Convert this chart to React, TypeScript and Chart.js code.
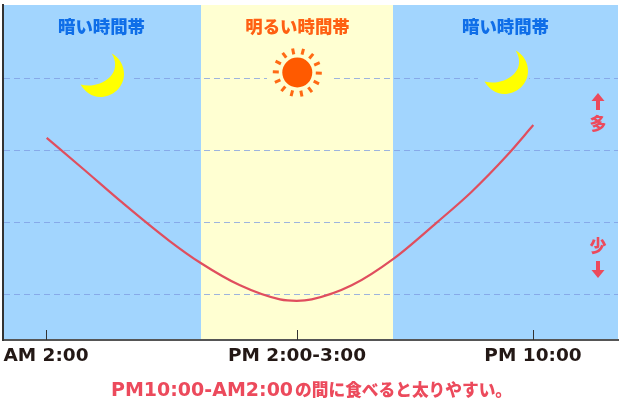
import React, { useEffect, useRef } from "react";
import { Chart, registerables } from "chart.js";

Chart.register(...registerables);

// x is a position along the (non-uniform) time axis, y is the relative amount
const tickPositions = [43, 294, 530];
const tickLabels = ["AM 2:00", "PM 2:00-3:00", "PM 10:00"];
const curveX = [43.7, 80, 120, 166, 197.7, 237, 277, 293.7, 308.7, 348.7, 390.7, 433.7, 468.7, 503.7, 530.3];
const curveY = [3.18, 2.75, 2.27, 1.75, 1.437, 1.126, 0.93, 0.91, 0.93, 1.126, 1.498, 2.0, 2.43, 2.93, 3.358];
const bandEdges = [0, 198, 390, 615];
const bandColors = ["#a2d5fe", "#ffffd2", "#a2d5fe"];
const bandTitles = ["暗い時間帯", "明るい時間帯", "暗い時間帯"];
const bandTitleColors = ["#0f6ee8", "#ff6012", "#0f6ee8"];
const captionLatin = "PM10:00-AM2:00";
const captionJp = "の間に食べると太りやすい。";
const moreLabel = "多";
const lessLabel = "少";

const RED = "#ec4a5c";
const LATIN = '"DejaVu Sans"';
const JP = '"Noto Sans CJK JP"';

const decor = {
  id: "decor",
  beforeDraw(chart: any) {
    const { ctx, chartArea: a, scales } = chart;
    const x = scales.x;
    ctx.save();
    ctx.fillStyle = "#ffffff";
    ctx.fillRect(0, 0, chart.width, chart.height);
    bandColors.forEach((c, i) => {
      ctx.fillStyle = c;
      const l = x.getPixelForValue(bandEdges[i]);
      const r = x.getPixelForValue(bandEdges[i + 1]);
      ctx.fillRect(l, a.top, r - l, a.bottom - a.top);
    });
    ctx.restore();
  },
  afterDatasetsDraw(chart: any) {
    const { ctx, chartArea: a, scales } = chart;
    const x = scales.x;
    ctx.save();
    // gaps in grid around the icons
    ctx.fillStyle = bandColors[0];
    ctx.fillRect(98, 77, 34, 4);
    ctx.fillRect(478, 77, 51, 4);
    ctx.fillStyle = bandColors[1];
    ctx.fillRect(267, 77, 66, 4);

    // tick marks
    ctx.strokeStyle = "#333";
    ctx.lineWidth = 1;
    tickPositions.forEach((t) => {
      const p = Math.floor(x.getPixelForValue(t)) + 0.5;
      ctx.beginPath();
      ctx.moveTo(p, a.bottom - 10);
      ctx.lineTo(p, a.bottom);
      ctx.stroke();
    });

    // band titles
    ctx.textAlign = "center";
    ctx.textBaseline = "middle";
    ctx.font = `900 17.4px ${JP}`;
    bandTitles.forEach((t, i) => {
      ctx.fillStyle = bandTitleColors[i];
      const c = i === 0 ? 101.5 : i === 1 ? 297.5 : 505.5;
      ctx.fillText(t, c, 26);
    });

    // moons
    const moon = (dx: number, dy: number) => {
      ctx.fillStyle = "#ffff00";
      ctx.beginPath();
      ctx.moveTo(111.7 + dx, 53.5 + dy);
      ctx.bezierCurveTo(120 + dx, 58 + dy, 124 + dx, 66 + dy, 124 + dx, 74 + dy);
      ctx.bezierCurveTo(124 + dx, 87 + dy, 113 + dx, 97 + dy, 100 + dx, 97 + dy);
      ctx.bezierCurveTo(92 + dx, 97 + dy, 85 + dx, 92 + dy, 80.5 + dx, 84.5 + dy);
      ctx.bezierCurveTo(90 + dx, 87 + dy, 102 + dx, 85 + dy, 110 + dx, 77 + dy);
      ctx.bezierCurveTo(116 + dx, 71 + dy, 117 + dx, 62 + dy, 111.7 + dx, 53.5 + dy);
      ctx.fill();
    };
    moon(0, 0);
    moon(404, -3);

    // sun
    const cx = 297.3;
    const cy = 72.5;
    ctx.fillStyle = "#ff5a00";
    ctx.beginPath();
    ctx.arc(cx, cy, 15, 0, Math.PI * 2);
    ctx.fill();
    ctx.strokeStyle = "#ff6a14";
    ctx.lineWidth = 3;
    for (let i = 0; i < 14; i++) {
      const th = ((-101 + (i * 360) / 14) * Math.PI) / 180;
      ctx.beginPath();
      ctx.moveTo(cx + Math.cos(th) * 18.5, cy + Math.sin(th) * 18.5);
      ctx.lineTo(cx + Math.cos(th) * 24.5, cy + Math.sin(th) * 24.5);
      ctx.stroke();
    }

    // arrows
    ctx.fillStyle = RED;
    const arrow = (tip: number, dir: number) => {
      ctx.beginPath();
      ctx.moveTo(598, tip);
      ctx.lineTo(604.5, tip + dir * 8);
      ctx.lineTo(600, tip + dir * 8);
      ctx.lineTo(600, tip + dir * 17);
      ctx.lineTo(596, tip + dir * 17);
      ctx.lineTo(596, tip + dir * 8);
      ctx.lineTo(591.5, tip + dir * 8);
      ctx.closePath();
      ctx.fill();
    };
    arrow(93, 1);
    arrow(278, -1);
    ctx.font = `900 17px ${JP}`;
    ctx.fillText(moreLabel, 598, 124);
    ctx.fillText(lessLabel, 598, 246);

    // caption
    ctx.textAlign = "left";
    ctx.font = `bold 19px ${LATIN}`;
    const w = ctx.measureText(captionLatin).width;
    ctx.fillText(captionLatin, 111, 391);
    ctx.font = `900 16.7px ${JP}`;
    ctx.fillText(captionJp, 111 + w + 2, 390);

    ctx.restore();
  },
};

export default function App() {
  const ref = useRef<HTMLCanvasElement>(null);
  useEffect(() => {
    const chart = new Chart(ref.current!, {
      type: "line",
      data: {
        datasets: [
          {
            data: curveX.map((x, i) => ({ x, y: curveY[i] })),
            borderColor: "#e04e5e",
            borderWidth: 2.2,
            pointRadius: 0,
            cubicInterpolationMode: "monotone",
          },
        ],
      },
      options: {
        responsive: false,
        animation: false,
        devicePixelRatio: 1,
        layout: { padding: { left: 3, top: 5, right: 4, bottom: 0 } },
        plugins: { legend: { display: false }, title: { display: false }, tooltip: { enabled: false } },
        scales: {
          x: {
            type: "linear",
            min: 0,
            max: 615,
            afterBuildTicks(s: any) {
              s.ticks = tickPositions.map((value) => ({ value }));
            },
            afterFit(s: any) {
              s.height = 63;
            },
            grid: { display: false },
            border: { color: "#555", width: 2 },
            ticks: {
              autoSkip: false,
              maxRotation: 0,
              padding: -3,
              color: "#231815",
              font: { family: "DejaVu Sans", weight: "bold", size: 18.5 },
              callback: (v: any) => tickLabels[tickPositions.indexOf(Number(v))],
            },
          },
          y: {
            min: 0.365,
            max: 5.03,
            afterBuildTicks(s: any) {
              s.ticks = [1, 2, 3, 4].map((value) => ({ value }));
            },
            afterFit(s: any) {
              s.width = 0;
            },
            grid: { color: "rgba(125,155,225,0.75)", drawTicks: false, lineWidth: 1 },
            border: { color: "#333", width: 2, dash: [6, 4] },
            ticks: { display: false },
          },
        },
      },
      plugins: [decor],
    } as any);
    return () => chart.destroy();
  }, []);
  return (
    <div style={{ position: "fixed", left: 0, top: 0, width: 622, height: 403 }}>
      <canvas ref={ref} width={622} height={403} style={{ display: "block" }} />
    </div>
  );
}
